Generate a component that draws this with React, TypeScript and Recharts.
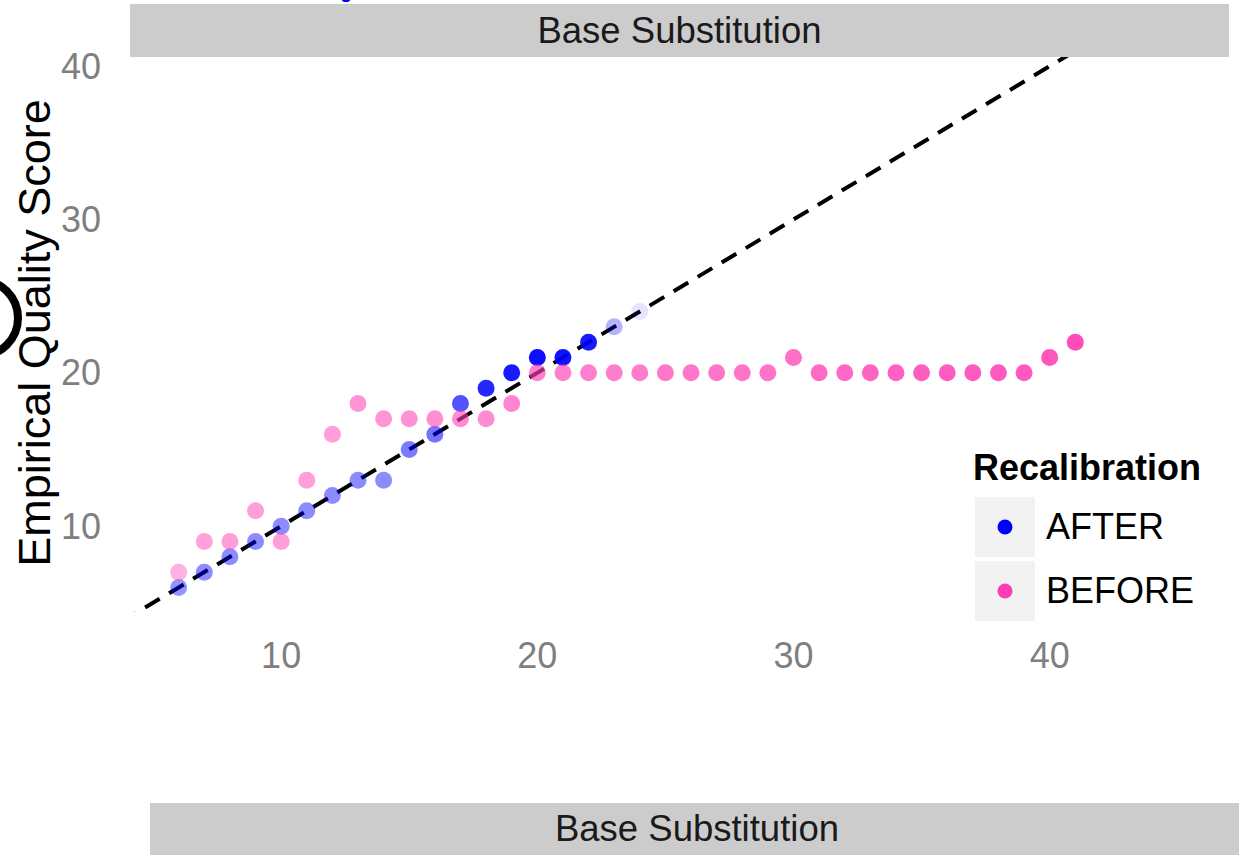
import React from 'react';
import { ScatterChart, Scatter, XAxis, YAxis, ReferenceLine } from 'recharts';

const FONT = '"Liberation Sans", Arial, Helvetica, sans-serif';

// Reported quality score (x) and empirical quality score (y)
const afterX = [6, 7, 8, 9, 10, 11, 12, 13, 14, 15, 16, 17, 18, 19, 20, 21, 22, 23, 24];
const afterY = [6, 7, 8, 9, 10, 11, 12, 13, 13, 15, 16, 18, 19, 20, 21, 21, 22, 23, 24];
// relative observation weight (drawn as point opacity)
const afterWeight = [0.42, 0.45, 0.45, 0.45, 0.45, 0.45, 0.45, 0.45, 0.45, 0.52, 0.55, 0.68, 0.85, 0.9, 0.95, 0.93, 0.9, 0.3, 0.1];

const beforeX = [6, 7, 8, 9, 10, 11, 12, 13, 14, 15, 16, 17, 18, 19, 20, 21, 22, 23, 24, 25, 26, 27, 28, 29, 30, 31, 32, 33, 34, 35, 36, 37, 38, 39, 40, 41];
const beforeY = [7, 9, 9, 11, 9, 13, 16, 18, 17, 17, 17, 17, 17, 18, 20, 20, 20, 20, 20, 20, 20, 20, 20, 20, 21, 20, 20, 20, 20, 20, 20, 20, 20, 20, 21, 22];
const beforeWeight = [0.4, 0.48, 0.5, 0.5, 0.5, 0.5, 0.5, 0.55, 0.55, 0.56, 0.58, 0.6, 0.6, 0.63, 0.65, 0.65, 0.66, 0.67, 0.68, 0.7, 0.7, 0.71, 0.72, 0.72, 0.75, 0.77, 0.78, 0.8, 0.82, 0.83, 0.84, 0.85, 0.85, 0.86, 0.88, 0.92];

const xTicks = [10, 20, 30, 40];
const yTicks = [10, 20, 30, 40];

const stripLabel = 'Base Substitution';
const yTitle = 'Empirical Quality Score';
const legendTitle = 'Recalibration';
const seriesNames = ['AFTER', 'BEFORE'];
const seriesColors = ['#0000FF', '#FF3DB4'];

const afterData = afterX.map((x, i) => ({ x, y: afterY[i], w: afterWeight[i] }));
const beforeData = beforeX.map((x, i) => ({ x, y: beforeY[i], w: beforeWeight[i] }));

const XTick = (props: any) => {
  const { x, y, payload } = props;
  return (
    <text x={x} y={y + 48} textAnchor="middle" fill="#7F7F7F" fontSize={36} fontFamily={FONT}>
      {payload.value}
    </text>
  );
};

const YTick = (props: any) => {
  const { x, y, payload } = props;
  return (
    <text x={x - 21} y={y} textAnchor="end" dominantBaseline="central" fill="#7F7F7F" fontSize={36} fontFamily={FONT}>
      {payload.value}
    </text>
  );
};

const makeShape = (color: string) => (props: any) => {
  const { cx, cy, payload } = props;
  if (cx == null || cy == null) return <g />;
  return <circle cx={cx} cy={cy} r={8.5} fill={color} fillOpacity={payload.w} stroke="none" />;
};

const Strip = ({ left, top, width, height }: { left: number; top: number; width: number; height: number }) => (
  <div
    style={{
      position: 'absolute',
      left,
      top,
      width,
      height,
      background: '#CCCCCC',
      display: 'flex',
      alignItems: 'center',
      justifyContent: 'center',
      fontFamily: FONT,
      fontSize: 36.5,
      color: '#1A1A1A',
    }}
  >
    {stripLabel}
  </div>
);

export default function App() {
  return (
    <div style={{ position: 'absolute', left: 0, top: 0, width: 1239, height: 855, background: '#fff', overflow: 'hidden' }}>
      <ScatterChart width={1239} height={855} margin={{ top: 57, right: 10, bottom: 183, left: 60 }}>
        <XAxis
          type="number"
          dataKey="x"
          domain={[4.1, 47]}
          ticks={xTicks}
          allowDataOverflow
          axisLine={false}
          tickLine={false}
          height={60}
          interval={0}
          tick={<XTick />}
        />
        <YAxis
          type="number"
          dataKey="y"
          domain={[4.4, 40.6]}
          ticks={yTicks}
          allowDataOverflow
          axisLine={false}
          tickLine={false}
          width={70}
          interval={0}
          tick={<YTick />}
        />
        <Scatter name={seriesNames[0]} data={afterData} isAnimationActive={false} shape={makeShape(seriesColors[0])} />
        <Scatter name={seriesNames[1]} data={beforeData} isAnimationActive={false} shape={makeShape(seriesColors[1])} />
        <ReferenceLine
          segment={[{ x: 0, y: 0 }, { x: 50, y: 50 }]}
          ifOverflow="hidden"
          stroke="#000"
          strokeWidth={4}
          strokeDasharray="17 11"
        />
      </ScatterChart>

      <Strip left={130} top={4} width={1099} height={53} />
      <Strip left={150} top={803} width={1094} height={52} />

      {/* y-axis title */}
      <div
        style={{
          position: 'absolute',
          left: 35,
          top: 333,
          transform: 'translate(-50%, -50%) rotate(-90deg)',
          whiteSpace: 'nowrap',
          fontFamily: FONT,
          fontSize: 45,
          color: '#000',
        }}
      >
        {yTitle}
      </div>

      {/* decorations cut off at the edges */}
      <svg style={{ position: 'absolute', left: 0, top: 0 }} width={1239} height={855} pointerEvents="none">
        <circle cx={-20} cy={318} r={38} fill="none" stroke="#000" strokeWidth={8} />
        <ellipse cx={346} cy={0} rx={4} ry={2} fill="#0000FF" />
      </svg>

      {/* legend */}
      <div style={{ position: 'absolute', left: 973, top: 447, fontFamily: FONT }}>
        <div style={{ fontSize: 36, fontWeight: 'bold', color: '#000', lineHeight: '42px', whiteSpace: 'nowrap' }}>{legendTitle}</div>
        {seriesNames.map((name, i) => (
          <div key={name} style={{ position: 'absolute', left: 2, top: 50 + i * 64, display: 'flex', alignItems: 'center' }}>
            <div style={{ width: 60, height: 60, background: '#F2F2F2', display: 'flex', alignItems: 'center', justifyContent: 'center' }}>
              <svg width={16} height={16}>
                <circle cx={8} cy={8} r={7.5} fill={seriesColors[i]} />
              </svg>
            </div>
            <div style={{ marginLeft: 11, fontSize: 36, color: '#000', whiteSpace: 'nowrap' }}>{name}</div>
          </div>
        ))}
      </div>
    </div>
  );
}
